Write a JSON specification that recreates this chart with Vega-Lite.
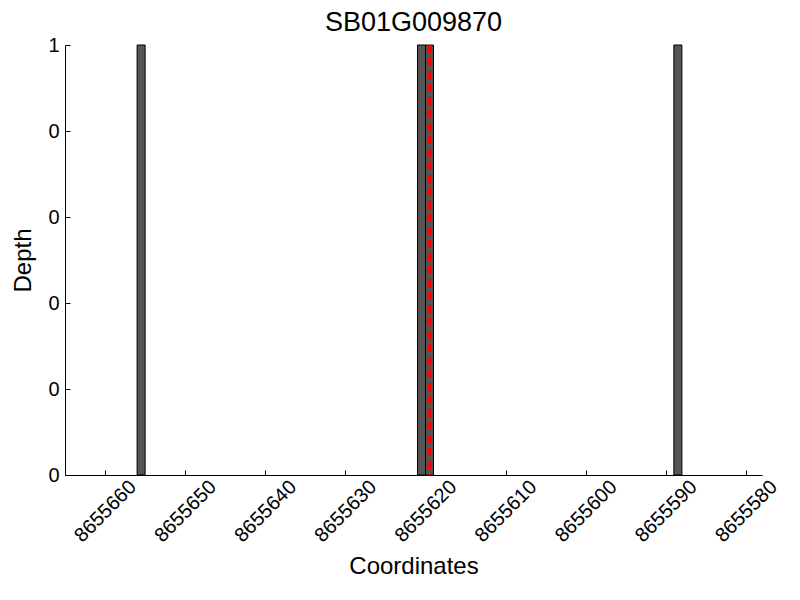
{
  "$schema": "https://vega.github.io/schema/vega-lite/v6.json",
  "width": 697,
  "height": 430,
  "autosize": "none",
  "padding": {"left": 65, "top": 45, "right": 38, "bottom": 125},
  "background": "white",
  "title": {"text": "SB01G009870", "fontSize": 27, "font": "Liberation Sans", "fontWeight": "normal", "color": "black", "offset": -2},
  "config": {
    "view": {"stroke": null},
    "axis": {
      "grid": false,
      "domainColor": "black",
      "domainWidth": 1,
      "tickColor": "black",
      "tickWidth": 1,
      "tickSize": -5,
      "labelColor": "black",
      "titleColor": "black",
      "labelFont": "Liberation Sans",
      "titleFont": "Liberation Sans",
      "titleFontWeight": "normal",
      "labelFontSize": 20,
      "titleFontSize": 24
    }
  },
  "datasets": {
    "bars": [
      {"start": 8655656, "end": 8655655, "depth": 1},
      {"start": 8655621, "end": 8655620, "depth": 1},
      {"start": 8655620, "end": 8655619, "depth": 1},
      {"start": 8655589, "end": 8655588, "depth": 1}
    ],
    "marker": [{"pos": 8655619.5}]
  },
  "layer": [
    {
      "data": {"name": "bars"},
      "mark": {"type": "bar", "fill": "#555555", "stroke": "black", "strokeWidth": 1},
      "encoding": {
        "x": {
          "field": "start", "type": "quantitative",
          "scale": {"domain": [8655578, 8655665], "reverse": true, "nice": false, "zero": false},
          "axis": {
            "title": "Coordinates",
            "values": [8655580, 8655590, 8655600, 8655610, 8655620, 8655630, 8655640, 8655650, 8655660],
            "format": "d",
            "labelAngle": -45,
            "labelAlign": "center",
            "labelBaseline": "middle",
            "labelPadding": 41,
            "titlePadding": 9
          }
        },
        "x2": {"field": "end"},
        "y": {
          "field": "depth", "type": "quantitative",
          "scale": {"domain": [0, 1], "nice": false},
          "axis": {
            "title": "Depth",
            "values": [0, 0.2, 0.4, 0.6, 0.8, 1],
            "labelExpr": "'' + floor(datum.value)",
            "labelPadding": 11,
            "titlePadding": 12
          }
        },
        "y2": {"datum": 0}
      }
    },
    {
      "data": {"name": "marker"},
      "mark": {"type": "rule", "color": "red", "strokeWidth": 3, "strokeDash": [8, 5]},
      "encoding": {"x": {"field": "pos", "type": "quantitative"}}
    }
  ]
}
